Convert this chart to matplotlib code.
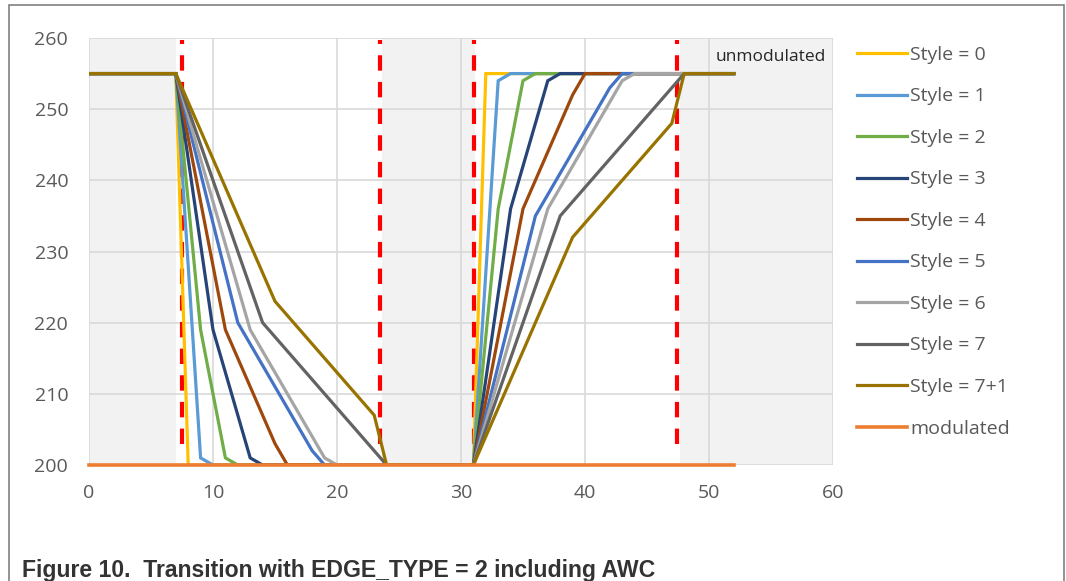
import matplotlib
matplotlib.use("Agg")
import matplotlib.pyplot as plt
from matplotlib.patches import Rectangle

# ---- data -------------------------------------------------------------
styles = ["Style = 0", "Style = 1", "Style = 2", "Style = 3", "Style = 4",
          "Style = 5", "Style = 6", "Style = 7", "Style = 7+1"]
colors = ["#FFC000", "#5B9BD5", "#70AD47", "#264478", "#9E480E",
          "#4472C4", "#A5A5A5", "#636363", "#997300"]

# time / level breakpoints of every style (flat 255, falling edge, flat 200,
# rising edge, flat 255)
style_x = [
    [0, 7, 8, 31, 32, 52],
    [0, 7, 9, 10, 31, 33, 34, 52],
    [0, 7, 9, 11, 12, 31, 33, 35, 36, 52],
    [0, 7, 10, 13, 14, 31, 34, 37, 38, 52],
    [0, 7, 11, 15, 16, 31, 35, 39, 40, 52],
    [0, 7, 12, 18, 19, 31, 36, 42, 43, 52],
    [0, 7, 13, 19, 20, 31, 37, 43, 44, 52],
    [0, 7, 14, 24, 31, 38, 48, 52],
    [0, 7, 15, 23, 24, 31, 39, 47, 48, 52],
]
style_y = [
    [255, 255, 200, 200, 255, 255],
    [255, 255, 201, 200, 200, 254, 255, 255],
    [255, 255, 219, 201, 200, 200, 236, 254, 255, 255],
    [255, 255, 219, 201, 200, 200, 236, 254, 255, 255],
    [255, 255, 219, 203, 200, 200, 236, 252, 255, 255],
    [255, 255, 220, 202, 200, 200, 235, 253, 255, 255],
    [255, 255, 219, 201, 200, 200, 236, 254, 255, 255],
    [255, 255, 220, 200, 200, 235, 255, 255],
    [255, 255, 223, 207, 200, 200, 232, 248, 255, 255],
]
modulated_x = [0, 52]
modulated_y = [200, 200]

# window boundaries (dashed markers) and shaded intervals
marker_x = [7.5, 23.5, 31.05, 47.4]
shaded = [(0, 7), (23.6, 31.1), (47.7, 60)]

x_ticks = [0, 10, 20, 30, 40, 50, 60]
y_ticks = [200, 210, 220, 230, 240, 250, 260]

# ---- figure -----------------------------------------------------------
W, H = 1066, 581
fig = plt.figure(figsize=(W / 100, H / 100), dpi=100)
font = "Open Sans"
tick_color = "#595959"

ax = fig.add_axes([89 / W, 1 - 465 / H, (833 - 89) / W, (465 - 38) / H])
ax.set_xlim(0, 60)
ax.set_ylim(200, 260)

for a, b in shaded:
    ax.axvspan(a, b, color="#F2F2F2", lw=0, zorder=0)

ax.set_xticks(x_ticks)
ax.set_yticks(y_ticks)
ax.grid(True, color="#D9D9D9", lw=1.2, zorder=0.5)
ax.set_axisbelow(True)
for s in ax.spines.values():
    s.set_visible(False)
ax.tick_params(length=0, labelsize=14, labelcolor=tick_color)
ax.tick_params(axis="x", pad=14)
ax.tick_params(axis="y", pad=15)
for lab in ax.get_xticklabels() + ax.get_yticklabels():
    lab.set_fontfamily(font)

for x in marker_x:
    ax.plot([x, x], [203, 259.7], color="#FF0000", lw=3,
            dashes=(3.7, 2.7), zorder=2)

handles = []
for name, c, xs, ys in zip(styles, colors, style_x, style_y):
    ln, = ax.plot(xs, ys, color=c, lw=2.3, solid_joinstyle="miter",
                  zorder=3, label=name)
    handles.append(ln)
mod, = ax.plot(modulated_x, modulated_y, color="#ED7D31", lw=2.6,
               zorder=4, label="modulated", clip_on=False)
handles.append(mod)

ax.text(55.0, 257.3, "unmodulated", ha="center", va="center",
        fontsize=12.5, family=font, color="#262626")

leg = fig.legend(handles=handles, loc="upper left",
                 bbox_to_anchor=(857 / W, 1 - 45.8 / H),
                 frameon=False, prop={"family": font, "size": 14},
                 handlelength=2.55, handletextpad=0.2,
                 labelspacing=1.21, borderaxespad=0, borderpad=0)
for t in leg.get_texts():
    t.set_color(tick_color)

# outer frame, open at the bottom
fig.patches.append(Rectangle((9 / W, -0.1), (1064 - 9) / W, 1.1 - 5 / H,
                             transform=fig.transFigure, fill=False,
                             edgecolor="#808080", lw=1.2))

fig.text(22 / W, 1 - 570 / H, "Figure 10.  Transition with EDGE_TYPE = 2 including AWC",
         family="Liberation Sans", weight="bold", fontsize=16.6,
         color="#333333", va="center", ha="left")

fig.savefig("out.png", dpi=100)
